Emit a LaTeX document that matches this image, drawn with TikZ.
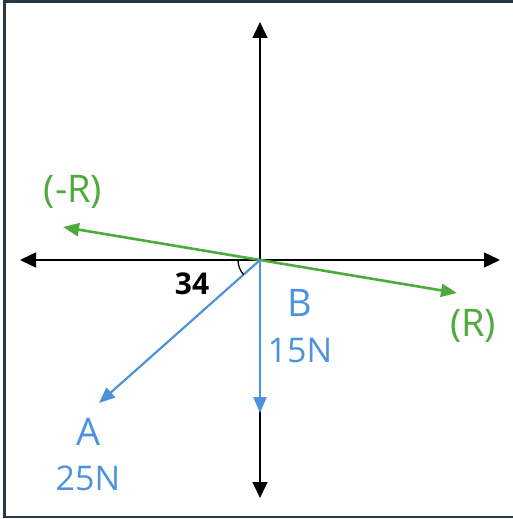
\documentclass[tikz,border=0pt]{standalone}
\usepackage{fontspec}
\setmainfont{Open Sans}
\usetikzlibrary{arrows.meta}
\definecolor{rgreen}{HTML}{4DAA3C}
\definecolor{fblue}{HTML}{4C93DC}
\definecolor{frame}{HTML}{263846}
\tikzset{
  axis/.style={line width=1.5pt,-{Triangle[length=16pt,width=15pt]}},
  resultant/.style={rgreen,line width=2.6pt,-{Triangle[length=16pt,width=13pt]}},
  force/.style={fblue,line width=2.2pt,-{Triangle[length=16pt,width=13pt]}},
  lbl/.style={font=\fontsize{38}{38}\selectfont},
  val/.style={font=\fontsize{34}{34}\selectfont},
}
\begin{document}
\begin{tikzpicture}[x=1pt,y=-1pt]
\useasboundingbox (0,0) rectangle (512,519);
\draw[frame,line width=2.6pt] (525,1.5) -- (4.5,1.5) -- (4.5,517) -- (525,517);
\coordinate (O) at (260,260);
\coordinate (up) at (260,22);
\coordinate (down) at (260,498);
\coordinate (left) at (20,260);
\coordinate (right) at (500,260);
\coordinate (R) at (457,293);
\coordinate (mR) at (63,227);
\coordinate (A) at (99,403);
\coordinate (B) at (260,413);
% axes
\draw[axis] (O) -- (up);
\draw[axis] (O) -- (down);
\draw[axis] (O) -- (left);
\draw[axis] (O) -- (right);
% resultant and its opposite
\draw[resultant] (O) -- (R);
\draw[resultant] (O) -- (mR);
% the two forces
\draw[force] (O) -- (A);
\draw[force] (O) -- (B);
\draw[line width=1.3pt] (O) ++(-22,0) arc[start angle=180,end angle=138,radius=22];
\node[font=\fontsize{30}{30}\selectfont\bfseries] (ang) at (192,284) {34};
\node[lbl,rgreen] (mRlbl) at (73,192) {(-R)};
\node[lbl,rgreen] (Rlbl) at (473,326) {(R)};
\node[lbl,fblue] (Albl) at (89,432) {A};
\node[val,fblue] (Aval) at (88,478) {25N};
\node[lbl,fblue] (Blbl) at (300,303) {B};
\node[val,fblue] (Bval) at (300,351) {15N};
\end{tikzpicture}
\end{document}
